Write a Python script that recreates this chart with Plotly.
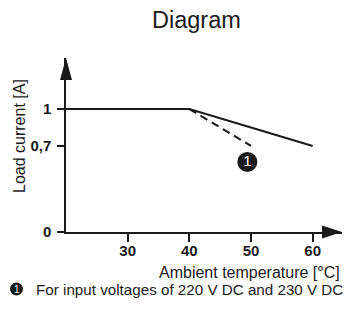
import plotly.graph_objects as go

# Data
temperature = [20, 40, 60]
load_current = [1.0, 1.0, 0.7]
dashed_temperature = [40, 50]
dashed_current = [1.0, 0.7]
note_x = [49.4]
note_y = [0.57]
note_label = ["1"]
x_tickvals = [30, 40, 50, 60]
x_ticktext = ["30", "40", "50", "60"]
y_tickvals = [0, 0.7, 1]
y_ticktext = ["0", "0,7", "1"]

X_RANGE = [20, 64.75]
Y_RANGE = [0, 1.415]
INK = "#1a1a1a"
FONT = "Liberation Sans, Arial, sans-serif"

L, R, T, B = 66, 12, 58, 80
W, H = 354, 312
PW, PH = W - L - R, H - T - B


def px_x(px):
    return (px - L) / PW


def px_y(py):
    return (H - B - py) / PH


fig = go.Figure()
fig.add_trace(go.Scatter(x=temperature, y=load_current, mode="lines",
                         line=dict(color=INK, width=2), hoverinfo="skip"))
fig.add_trace(go.Scatter(x=dashed_temperature, y=dashed_current, mode="lines",
                         line=dict(color=INK, width=2, dash="8px,5px"), hoverinfo="skip"))
fig.add_trace(go.Scatter(x=note_x, y=note_y, mode="markers+text",
                         marker=dict(size=20, color=INK, line=dict(width=0)),
                         text=note_label, textposition="middle center",
                         textfont=dict(color="white", size=15, family=FONT),
                         hoverinfo="skip"))

fig.update_layout(
    width=W, height=H,
    margin=dict(l=L, r=R, t=T, b=B),
    paper_bgcolor="white", plot_bgcolor="white",
    showlegend=False,
    font=dict(family=FONT, color=INK, size=15),
    xaxis=dict(range=X_RANGE, showgrid=False, zeroline=False, showline=True,
               linecolor=INK, linewidth=1.5, ticks="outside", ticklen=8,
               tickwidth=1.5, tickcolor=INK, tickvals=x_tickvals, ticktext=x_ticktext,
               tickfont=dict(size=15, weight="bold", color=INK), ticklabelstandoff=-4),
    yaxis=dict(range=Y_RANGE, showgrid=False, zeroline=False, showline=True,
               linecolor=INK, linewidth=1.5, ticks="outside", ticklen=7,
               tickwidth=1.5, tickcolor=INK, tickvals=y_tickvals, ticktext=y_ticktext,
               tickfont=dict(size=15, weight="bold", color=INK), ticklabelstandoff=3),
    shapes=[
        dict(type="path", xref="paper", yref="paper", xsizemode="pixel", ysizemode="pixel",
             xanchor=0, yanchor=1,
             path="M -6,-22 L 6,-22 L 0,0 Z", fillcolor=INK, line=dict(width=0)),
        dict(type="path", xref="paper", yref="paper", xsizemode="pixel", ysizemode="pixel",
             xanchor=1, yanchor=0,
             path="M -20,-6.5 L -20,6.5 L 0,0 Z", fillcolor=INK, line=dict(width=0)),
        dict(type="circle", xref="paper", yref="paper", xsizemode="pixel", ysizemode="pixel",
             xanchor=px_x(16.5), yanchor=px_y(289),
             x0=-6.5, x1=6.5, y0=-6.5, y1=6.5, fillcolor=INK, line=dict(width=0)),
    ],
    annotations=[
        dict(text="Diagram", xref="paper", yref="paper", x=px_x(196.5), y=px_y(19.5),
             xanchor="center", yanchor="middle", showarrow=False,
             font=dict(size=23.5, color=INK)),
        dict(text="Ambient temperature [°C]", xref="paper", yref="paper", x=px_x(342),
             y=px_y(272), xanchor="right", yanchor="middle", showarrow=False,
             font=dict(size=16, color=INK)),
        dict(text="Load current [A]", xref="paper", yref="paper", x=px_x(19), y=px_y(136),
             xanchor="center", yanchor="middle", textangle=-90,
             showarrow=False, font=dict(size=16, color=INK)),
        dict(text="1", xref="paper", yref="paper", x=px_x(16.5), y=px_y(289),
             xanchor="center", yanchor="middle", showarrow=False,
             font=dict(size=10, color="white")),
        dict(text="For input voltages of 220 V DC and 230 V DC", xref="paper",
             yref="paper", x=px_x(34), y=px_y(289),
             xanchor="left", yanchor="middle", showarrow=False,
             font=dict(size=15.2, color=INK)),
    ],
)

fig.write_html("out.html", config={"displayModeBar": False},
               post_script="document.body.style.margin='0';document.body.style.padding='0';")
